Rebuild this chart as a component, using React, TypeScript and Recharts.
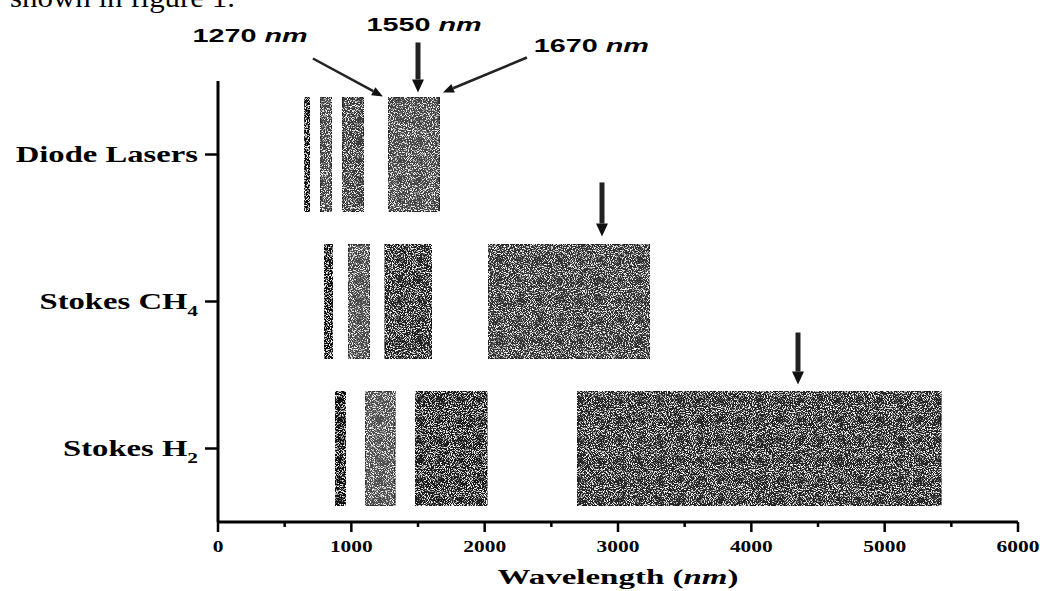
import React from "react";
import { BarChart, Bar, XAxis, YAxis, Cell, ReferenceLine, ReferenceDot } from "recharts";

// emission bands per source, [start, end] in nm
const categories = ["Diode Lasers", "Stokes CH4", "Stokes H2"];
const diodeBands: [number, number][] = [[650, 690], [765, 855], [930, 1095], [1280, 1660]];
const ch4Bands: [number, number][] = [[795, 862], [975, 1140], [1252, 1605], [2025, 3240]];
const h2Bands: [number, number][] = [[878, 960], [1103, 1328], [1478, 2018], [2693, 5423]];
const xTicks = [0, 500, 1000, 1500, 2000, 2500, 3000, 3500, 4000, 4500, 5000, 5500, 6000];

// labelled wavelengths above the diode bands
const markLabels = ["1270", "1550", "1670"];
const markLabelPos = [{ x: 240, y: -0.262 }, { x: 1545, y: -0.337 }, { x: 2800, y: -0.194 }];

// arrows: x in nm, y in row units (0 = top of the plot, each row is 1)
const arrows = [
  { x1: 712, y1: -0.153, x2: 1237, y2: 0.105, heavy: false },
  { x1: 1500, y1: -0.262, x2: 1500, y2: 0.078, heavy: true },
  { x1: 2317, y1: -0.16, x2: 1687, y2: 0.078, heavy: false },
  { x1: 2880, y1: 0.69, x2: 2880, y2: 1.058, heavy: true },
  { x1: 4350, y1: 1.711, x2: 4350, y2: 2.065, heavy: true },
];

const bandFills = [
  ["#111", "#444", "#3a3a3a", "#454545"],
  ["#111", "#4a4a4a", "#222", "#333"],
  ["#0c0c0c", "#505050", "#1a1a1a", "#262626"],
];

const allBands = [diodeBands, ch4Bands, h2Bands];
const SEGMENTS = 4;

const data = categories.map((name, i) => {
  const row: Record<string, number | string> = { name };
  let prev = 0;
  allBands[i].forEach(([a, b], k) => {
    row[`gap${k}`] = a - prev;
    row[`seg${k}`] = b - a;
    prev = b;
  });
  return row;
});

const serif = "'Liberation Serif', 'Times New Roman', serif";
const sans = "'Liberation Sans', Arial, sans-serif";

function XTick(props: any) {
  const { x, y, payload } = props;
  const major = payload.value % 1000 === 0;
  return (
    <g>
      <line x1={x} y1={y} x2={x} y2={y + (major ? 10 : 5)} stroke="#000" strokeWidth={2.5} />
      {major && (
        <g transform={`translate(${x},${y + 30}) scale(1.3,1)`}>
          <text textAnchor="middle" fontFamily={serif} fontWeight="bold" fontSize={16.5} fill="#000">
            {payload.value}
          </text>
        </g>
      )}
    </g>
  );
}

function YTick(props: any) {
  const { x, y, payload } = props;
  const m = /^(.*?)(\d)$/.exec(payload.value);
  return (
    <g>
      <line x1={x - 13} y1={y} x2={x} y2={y} stroke="#000" strokeWidth={2.5} />
      <g transform={`translate(${x - 20},${y + 7}) scale(1.42,1)`}>
        <text textAnchor="end" fontFamily={serif} fontWeight="bold" fontSize={23} fill="#000">
          {m ? m[1] : payload.value}
          {m && (
            <tspan fontSize={15} dy={7}>
              {m[2]}
            </tspan>
          )}
        </text>
      </g>
    </g>
  );
}

function AxisTitle(props: any) {
  const { viewBox } = props;
  const cx = viewBox.x + viewBox.width / 2;
  return (
    <g transform={`translate(${cx},${viewBox.y + 62}) scale(1.5,1)`}>
      <text textAnchor="middle" fontFamily={serif} fontWeight="bold" fontSize={22} fill="#000">
        Wavelength (<tspan fontStyle="italic">nm</tspan>)
      </text>
    </g>
  );
}

const arrowShape = (heavy: boolean) => (p: any) => {
  const { x1, y1, x2, y2 } = p;
  const ang = Math.atan2(y2 - y1, x2 - x1);
  const len = heavy ? 13 : 11;
  const half = heavy ? 6 : 4.5;
  const bx = x2 - len * Math.cos(ang);
  const by = y2 - len * Math.sin(ang);
  const px = -Math.sin(ang) * half;
  const py = Math.cos(ang) * half;
  return (
    <g>
      <line x1={x1} y1={y1} x2={bx} y2={by} stroke="#222" strokeWidth={heavy ? 5 : 2.5} />
      <polygon points={`${x2},${y2} ${bx + px},${by + py} ${bx - px},${by - py}`} fill="#111" />
    </g>
  );
};

const markText = (label: string) => (p: any) => (
  <g transform={`translate(${p.cx},${p.cy}) scale(1.6,1)`}>
    <text textAnchor="middle" fontFamily={sans} fontWeight="bold" fontSize={18} fill="#000">
      {label} <tspan fontStyle="italic">nm</tspan>
    </text>
  </g>
);

export default function App() {
  return (
    <div style={{ position: "absolute", left: 0, top: 0, width: 1040, height: 591, background: "#fff" }}>
      <BarChart
        width={1040}
        height={591}
        data={data}
        layout="vertical"
        barSize={115}
        margin={{ top: 81, right: 22, bottom: 0, left: 0 }}
      >
        <defs>
          <filter id="grain" x="0" y="0" width="100%" height="100%">
            <feTurbulence type="fractalNoise" baseFrequency="0.95" numOctaves="2" seed="7" result="noise" />
            <feColorMatrix
              in="noise"
              type="matrix"
              values="0 0 0 0 1  0 0 0 0 1  0 0 0 0 1  6 0 0 0 -3.1"
              result="specks"
            />
            <feComposite in="specks" in2="SourceGraphic" operator="in" result="sp" />
            <feMerge>
              <feMergeNode in="SourceGraphic" />
              <feMergeNode in="sp" />
            </feMerge>
          </filter>
        </defs>
        <XAxis
          type="number"
          domain={[0, 6000]}
          ticks={xTicks}
          interval={0}
          tickLine={false}
          tickSize={0}
          tickMargin={0}
          height={69}
          axisLine={{ stroke: "#000", strokeWidth: 3 }}
          tick={<XTick />}
          label={<AxisTitle />}
        />
        <YAxis
          type="category"
          dataKey="name"
          width={218}
          tickLine={false}
          tickSize={0}
          tickMargin={0}
          axisLine={{ stroke: "#000", strokeWidth: 3 }}
          tick={<YTick />}
        />
        <YAxis
          yAxisId="ann"
          dataKey="annRow"
          type="number"
          orientation="right"
          domain={[0, 3]}
          ticks={[0, 1, 2, 3]}
          hide
          allowDataOverflow
        />
        {Array.from({ length: SEGMENTS }).flatMap((_, k) => [
          <Bar key={`gap${k}`} dataKey={`gap${k}`} stackId="s" fill="transparent" isAnimationActive={false} />,
          <Bar
            key={`seg${k}`}
            dataKey={`seg${k}`}
            stackId="s"
            stroke="#111"
            strokeWidth={1}
            filter="url(#grain)"
            isAnimationActive={false}
          >
            {data.map((_, i) => (
              <Cell key={i} fill={bandFills[i][k]} />
            ))}
          </Bar>,
        ])}
        {arrows.map((a, i) => (
          <ReferenceLine
            key={`arrow${i}`}
            yAxisId="ann"
            ifOverflow="visible"
            segment={[{ x: a.x1, y: a.y1 }, { x: a.x2, y: a.y2 }]}
            shape={arrowShape(a.heavy)}
          />
        ))}
        {markLabels.map((m, i) => (
          <ReferenceDot
            key={`mark${i}`}
            yAxisId="ann"
            ifOverflow="visible"
            x={markLabelPos[i].x}
            y={markLabelPos[i].y}
            r={0}
            shape={markText(m)}
          />
        ))}
      </BarChart>
      <svg width={1040} height={20} style={{ position: "absolute", left: 0, top: 0 }}>
        <text x={10} y={7} fontFamily={serif} fontSize={28} textLength={225} lengthAdjust="spacingAndGlyphs">
          shown in figure 1.
        </text>
      </svg>
    </div>
  );
}
